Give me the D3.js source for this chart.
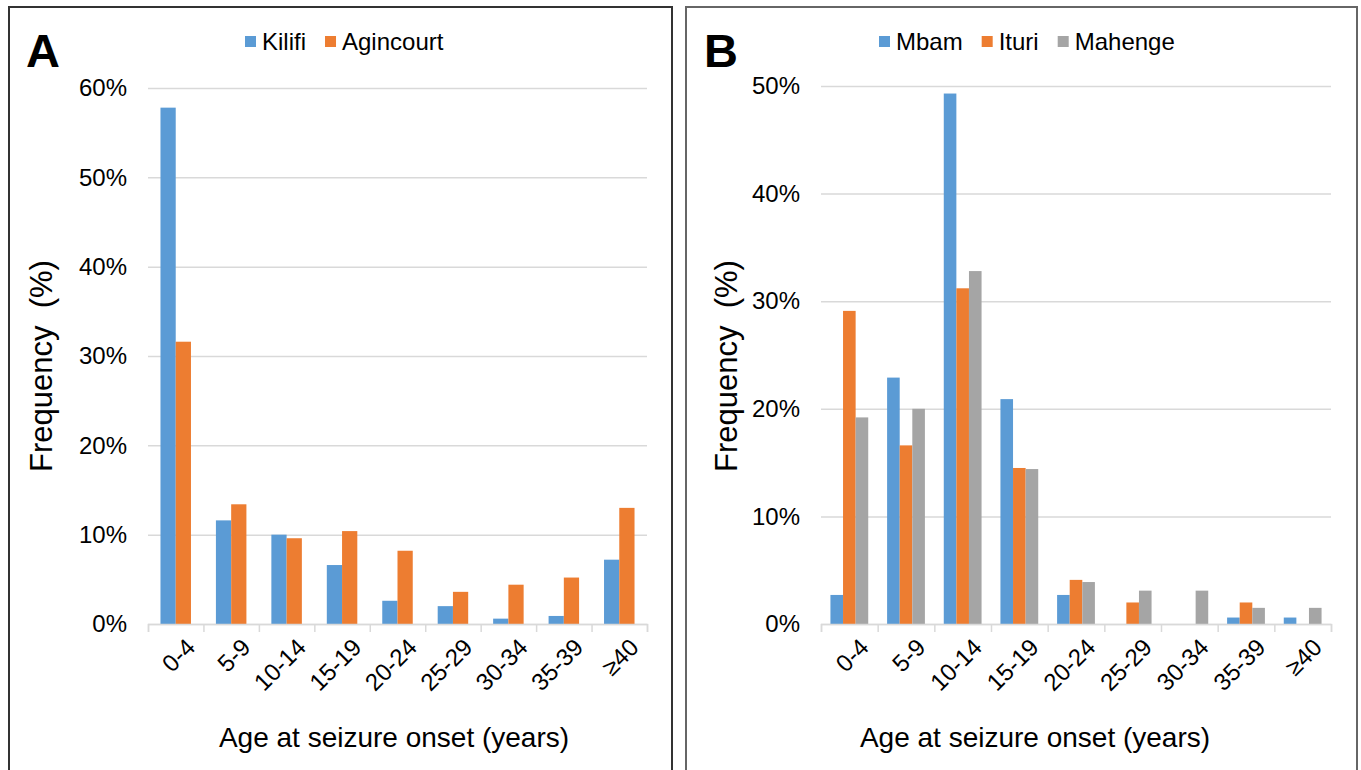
<!DOCTYPE html>
<html>
<head>
<meta charset="utf-8">
<script src="https://cdn.jsdelivr.net/npm/d3@7"></script>
<style>
  body { margin: 0; background: #fff; }
  text { font-family: "Liberation Sans", Arial, sans-serif; fill: #000; }
</style>
</head>
<body>
<svg id="chart" width="1361" height="770"></svg>
<script>
// age groups shared by both panels
const ageGroups = ['0-4', '5-9', '10-14', '15-19', '20-24', '25-29', '30-34', '35-39', '≥40'];

// panel A (percent)
const kilifi    = [57.8, 11.6, 10.0, 6.6, 2.6, 2.0, 0.6, 0.9, 7.2];
const agincourt = [31.6, 13.4, 9.6, 10.4, 8.2, 3.6, 4.4, 5.2, 13.0];
const ticksA = [0, 10, 20, 30, 40, 50, 60];

// panel B (percent)
const mbam    = [2.7, 22.9, 49.3, 20.9, 2.7, 0, 0, 0.6, 0.6];
const ituri   = [29.1, 16.6, 31.2, 14.5, 4.1, 2.0, 0, 2.0, 0];
const mahenge = [19.2, 20.0, 32.8, 14.4, 3.9, 3.1, 3.1, 1.5, 1.5];
const ticksB = [0, 10, 20, 30, 40, 50];

const colors = ['#5B9BD5', '#ED7D31', '#A5A5A5'];

const svg = d3.select('#chart');

function drawPanel(opt) {
  const g = svg.append('g');

  // frame
  g.append('rect')
    .attr('x', opt.frame[0]).attr('y', 7)
    .attr('width', opt.frame[1] - opt.frame[0]).attr('height', 780)
    .attr('fill', 'none').attr('stroke', opt.frameColor).attr('stroke-width', 2);

  const x = d3.scaleBand().domain(ageGroups).range([opt.left, opt.right]);
  const y = d3.scaleLinear().domain([0, d3.max(opt.ticks)]).range([624, opt.top]);

  const n = opt.series.length;
  const groupW = x.bandwidth() * opt.groupFrac;
  const xs = d3.scaleBand().domain(d3.range(n))
    .range([(x.bandwidth() - groupW) / 2, (x.bandwidth() + groupW) / 2]);

  // y axis with gridlines
  const yAxis = g.append('g')
    .attr('transform', `translate(${opt.left},0)`)
    .call(d3.axisLeft(y).tickValues(opt.ticks).tickSize(-(opt.right - opt.left))
      .tickPadding(21).tickFormat(d => d + '%'));
  yAxis.select('.domain').remove();
  yAxis.selectAll('.tick line').attr('stroke', '#d9d9d9').attr('stroke-width', 1.5);
  yAxis.selectAll('.tick text').attr('font-size', 24).attr('fill', '#000');

  // bars
  opt.series.forEach((vals, si) => {
    g.append('g').selectAll('rect')
      .data(vals)
      .join('rect')
      .attr('x', (d, i) => x(ageGroups[i]) + xs(si))
      .attr('y', d => y(d))
      .attr('width', xs.bandwidth())
      .attr('height', d => 624 - y(d))
      .attr('fill', colors[si]);
  });

  // x axis line and boundary ticks
  const xb = d3.scaleLinear().domain([0, ageGroups.length]).range([opt.left, opt.right]);
  const xAxis = g.append('g')
    .attr('transform', 'translate(0,624)')
    .call(d3.axisBottom(xb).ticks(ageGroups.length).tickSize(8).tickSizeOuter(8).tickFormat(''));
  xAxis.selectAll('path, line').attr('stroke', '#d9d9d9').attr('stroke-width', 1.5);

  // rotated category labels
  g.append('g').selectAll('text')
    .data(ageGroups)
    .join('text')
    .attr('transform', d => `translate(${x(d) + x.bandwidth() / 2 + 9},637) rotate(-45)`)
    .attr('text-anchor', 'end')
    .attr('dy', '0.7em')
    .attr('font-size', 24)
    .text(d => d);

  // axis titles
  g.append('text')
    .attr('x', opt.xTitleX).attr('y', 747)
    .attr('text-anchor', 'middle')
    .attr('font-size', 28)
    .text('Age at seizure onset (years)');

  g.append('text')
    .attr('transform', `translate(${opt.yTitleX},366) rotate(-90)`)
    .attr('text-anchor', 'middle')
    .attr('font-size', 31)
    .style('white-space', 'pre')
    .text('Frequency  (%)');

  // panel letter
  g.append('text')
    .attr('x', opt.letterX).attr('y', 67)
    .attr('font-size', 47).attr('font-weight', 'bold')
    .text(opt.letter);

  // legend
  let lx = opt.legendX;
  opt.names.forEach((name, si) => {
    g.append('rect')
      .attr('x', lx).attr('y', 36).attr('width', 11).attr('height', 11)
      .attr('fill', colors[si]);
    const t = g.append('text')
      .attr('x', lx + 17).attr('y', 50)
      .attr('font-size', 24)
      .text(name);
    lx += 17 + t.node().getComputedTextLength() + 19;
  });
}

drawPanel({
  frame: [9, 672], frameColor: '#333',
  left: 148, right: 647, top: 88,
  ticks: ticksA, groupFrac: 0.55,
  series: [kilifi, agincourt], names: ['Kilifi', 'Agincourt'],
  xTitleX: 394, yTitleX: 52, letter: 'A', letterX: 26, legendX: 245
});

drawPanel({
  frame: [686, 1357], frameColor: '#666',
  left: 821, right: 1331, top: 86,
  ticks: ticksB, groupFrac: 0.667,
  series: [mbam, ituri, mahenge], names: ['Mbam', 'Ituri', 'Mahenge'],
  xTitleX: 1035, yTitleX: 737, letter: 'B', letterX: 704, legendX: 879
});
</script>
</body>
</html>
